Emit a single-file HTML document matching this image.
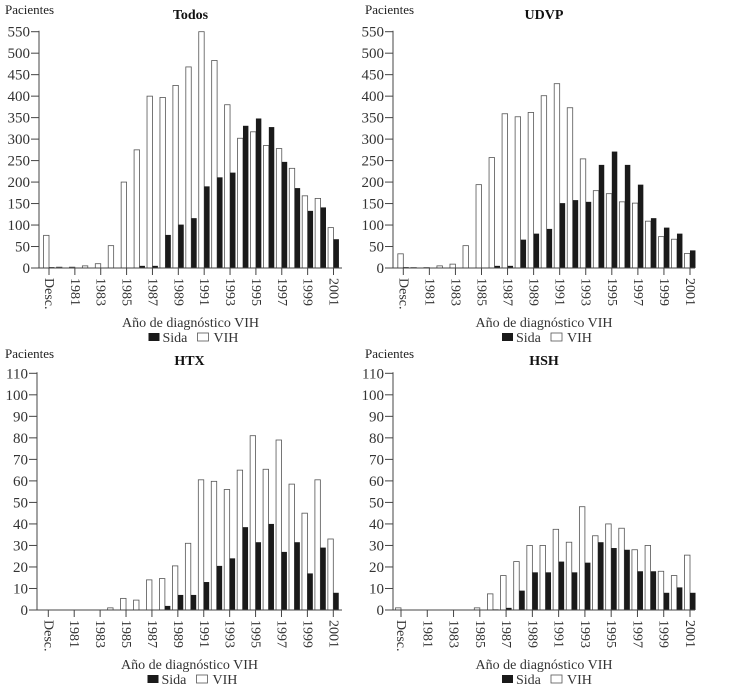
<!DOCTYPE html>
<html><head><meta charset="utf-8"><style>
body{margin:0;background:#fff;}
svg{display:block;font-family:"Liberation Serif",serif;}
</style></head><body>
<svg id="chart" width="730" height="687" viewBox="0 0 730 687" xmlns="http://www.w3.org/2000/svg"></svg>
<script>
const categories = ["Desc.","1980","1981","1982","1983","1984","1985","1986","1987","1988","1989","1990","1991","1992","1993","1994","1995","1996","1997","1998","1999","2000","2001"];
const todosVIH  = [76,2,2,5,10,52,200,275,400,397,425,468,550,483,380,302,317,285,278,232,168,162,94];
const todosSida = [2,0,0,0,0,0,0,5,5,77,101,116,190,211,222,331,348,328,247,186,133,141,67];
const udvpVIH   = [33,1,1,5,9,52,194,257,359,352,362,401,429,373,254,180,173,154,151,109,73,67,34];
const udvpSida  = [2,0,0,0,0,0,0,5,5,66,80,91,151,158,154,240,271,240,194,116,94,80,41];
const htxVIH    = [0,0,0,0,0,1,5.4,4.6,14,14.6,20.5,31,60.5,59.8,56,65,81,65.4,79,58.5,45,60.5,33];
const htxSida    = [0,0,0,0,0,0,0,0,0,1.9,7,7,13,20.5,24,38.5,31.5,40,27,31.5,17,29,8];
const hshVIH    = [1,0,0,0,0,0,1,7.5,16,22.5,30,30,37.5,31.5,48,34.5,40,38,28,30,18,16,25.5];
const hshSida   = [0,0,0,0,0,0,0,0.3,1,9,17.5,17.5,22.5,17.5,22,31.5,28.8,28,18,18,8,10.5,8];
const ticksBig  = [0,50,100,150,200,250,300,350,400,450,500,550];
const ticksSmall= [0,10,20,30,40,50,60,70,80,90,100,110];

const NS="http://www.w3.org/2000/svg";
const svg=document.getElementById('chart');
function mk(tag,attrs,parent){const e=document.createElementNS(NS,tag);for(const k in attrs)e.setAttribute(k,attrs[k]);(parent||svg).appendChild(e);return e;}

const panels=[
 {name:"todos",title:"Todos",ox:0,oy:0,axisX:39,xEnd:342,c0:49,c1:333.5,y0:268,y1:31.7,max:550,ticks:ticksBig,vih:todosVIH,sida:todosSida},
 {name:"udvp",title:"UDVP",ox:360,oy:0,axisX:33,xEnd:335,c0:43.3,c1:330,y0:268,y1:31.7,max:550,ticks:ticksBig,vih:udvpVIH,sida:udvpSida},
 {name:"htx",title:"HTX",ox:0,oy:345,axisX:37,xEnd:342,c0:48.3,c1:333.3,y0:265,y1:28.3,max:110,ticks:ticksSmall,vih:htxVIH,sida:htxSida},
 {name:"hsh",title:"HSH",ox:360,oy:345,axisX:33,xEnd:335,c0:41,c1:330,y0:265,y1:28.3,max:110,ticks:ticksSmall,vih:hshVIH,sida:hshSida}
];

panels.forEach(p=>{
  const g=mk('g',{transform:`translate(${p.ox},${p.oy})`});
  
  
  const n=categories.length;
  const xs=i=>p.c0+(p.c1-p.c0)*i/(n-1);
  const ys=v=>p.y0-(p.y0-p.y1)*v/p.max;
  const bw=(p.c1-p.c0)/(n-1)*0.42;
  let t=mk('text',{x:5,y:p.oy?13:14,'font-size':13,fill:'#222'},g);t.textContent="Pacientes";
  
  t=mk('text',{x:(p.axisX+p.xEnd)/2,y:p.oy?20:19,'font-size':14,'font-weight':'bold','text-anchor':'middle',fill:'#111'},g);t.textContent=p.title;
  
  p.ticks.forEach(v=>{
    const y=ys(v);
    mk('line',{x1:p.axisX-8,x2:p.axisX,y1:y,y2:y,stroke:'#444','stroke-width':1},g);
    const l=mk('text',{x:p.axisX-9,y:y+5,'font-size':15,'text-anchor':'end',fill:'#333'},g);l.textContent=v;
    
  });
  categories.forEach((c,i)=>{
    const cx=xs(i);
    if(p.vih[i]>0){const r=mk('rect',{x:cx-bw,y:ys(p.vih[i]),width:bw,height:p.y0-ys(p.vih[i]),fill:'#fff',stroke:'#555','stroke-width':0.8},g);
      }
    if(p.sida[i]>0){const r=mk('rect',{x:cx,y:ys(p.sida[i]),width:bw,height:p.y0-ys(p.sida[i]),fill:'#1a1a1a'},g);
      }
    if(i===0||i%2===0){
      mk('line',{x1:cx,x2:cx,y1:p.y0,y2:p.y0+7,stroke:'#444','stroke-width':1},g);
      const l=mk('text',{transform:`translate(${cx-4},${p.y0+10}) rotate(90)`,'font-size':14,fill:'#333'},g);l.textContent=c;
      
    }
  });
  mk('line',{x1:p.axisX,x2:p.axisX,y1:p.y1-1,y2:p.y0,stroke:'#444','stroke-width':1},g);
  mk('line',{x1:p.axisX,x2:p.xEnd,y1:p.y0,y2:p.y0,stroke:'#444','stroke-width':1},g);
  const mid=(p.axisX+p.xEnd)/2;
  t=mk('text',{x:mid,y:p.y0+59,'font-size':14,'text-anchor':'middle',fill:'#333'},g);t.textContent="Año de diagnóstico VIH";
  
  const ly=p.y0+65;
  const lg=mk('g',{},g);
  
  mk('rect',{x:mid-42,y:ly,width:11,height:8,fill:'#1a1a1a'},lg);
  t=mk('text',{x:mid-28,y:ly+9,'font-size':14,fill:'#333'},lg);t.textContent="Sida";
  
  mk('rect',{x:mid+7,y:ly,width:11,height:8,fill:'#fff',stroke:'#555','stroke-width':0.8},lg);
  t=mk('text',{x:mid+23,y:ly+9,'font-size':14,fill:'#333'},lg);t.textContent="VIH";
  
});
</script>
</body></html>
